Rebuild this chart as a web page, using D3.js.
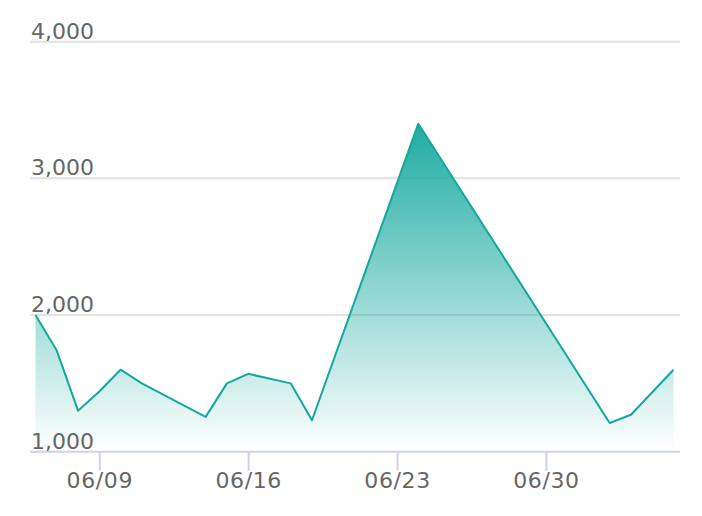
<!DOCTYPE html>
<html><head><meta charset="utf-8">
<script src="https://cdn.jsdelivr.net/npm/d3@7"></script>
<style>html,body{margin:0;padding:0;background:#fff;}svg{display:block;}</style>
</head><body>
<svg id="chart" width="702" height="516"></svg>
<script>
const dates = ["2024-06-06","2024-06-07","2024-06-08","2024-06-09","2024-06-10","2024-06-11","2024-06-14","2024-06-15","2024-06-16","2024-06-18","2024-06-19","2024-06-24","2024-07-03","2024-07-04","2024-07-06"];
const values = [2000,1740,1300,1440,1600,1500,1255,1500,1570,1500,1230,3400,1210,1270,1600];
const yTicks = [1000,2000,3000,4000];
const xTicks = ["2024-06-09","2024-06-16","2024-06-23","2024-06-30"];

const parse = d3.utcParse("%Y-%m-%d");
const data = dates.map((d,i)=>({date:parse(d), value:values[i]}));

const svg = d3.select("#chart");
const mLeft = 30, mRight = 680, mTop = 41.7, mBottom = 451.7;
const x = d3.scaleUtc().domain([parse("2024-06-06"), parse("2024-07-06")]).range([35.5, 673.5]);
const y = d3.scaleLinear().domain([1000,4000]).range([mBottom, mTop]);

const defs = svg.append("defs");
const grad = defs.append("linearGradient").attr("id","g").attr("gradientUnits","userSpaceOnUse")
  .attr("x1",0).attr("x2",0).attr("y1",y(d3.max(values))).attr("y2",mBottom);
grad.append("stop").attr("offset",0).attr("stop-color","#13a89e").attr("stop-opacity",0.95);
grad.append("stop").attr("offset",1).attr("stop-color","#13a89e").attr("stop-opacity",0.0);

// gridlines
svg.append("g").selectAll("line").data(yTicks.filter(t=>t>1000)).join("line")
  .attr("x1",mLeft).attr("x2",mRight).attr("y1",d=>y(d)).attr("y2",d=>y(d))
  .attr("stroke","#e2e2e2").attr("stroke-width",2);

// area
svg.append("path").datum(data)
  .attr("d", d3.area().x(d=>x(d.date)).y0(y(1000)).y1(d=>y(d.value)))
  .attr("fill","url(#g)");
svg.append("path").datum(data)
  .attr("d", d3.line().x(d=>x(d.date)).y(d=>y(d.value)))
  .attr("fill","none").attr("stroke","#13a89e").attr("stroke-width",2).attr("stroke-linejoin","round");

// x axis
const xAxis = d3.axisBottom(x).tickValues(xTicks.map(parse)).tickFormat(d3.utcFormat("%m/%d")).tickSize(19).tickSizeOuter(0);
const gx = svg.append("g").attr("transform",`translate(0,${mBottom})`).call(xAxis);
gx.select(".domain").remove();
gx.append("line").attr("x1",mLeft).attr("x2",mRight).attr("stroke","#ccd3e8").attr("stroke-width",2);
gx.selectAll(".tick line").attr("stroke","#ccd3e8").attr("stroke-width",2);
gx.selectAll(".tick text").attr("fill","#666").attr("font-family","DejaVu Sans").attr("font-size",22)
  .attr("letter-spacing","0.6px").attr("y",36).attr("dy",0);

// y labels
const yAxis = d3.axisLeft(y).tickValues(yTicks).tickFormat(d3.format(",")).tickSize(0);
const gy = svg.append("g").attr("transform",`translate(${mLeft+1},0)`).call(yAxis);
gy.select(".domain").remove();
gy.selectAll(".tick text").attr("fill","#666").attr("font-family","DejaVu Sans").attr("font-size",22)
  .attr("text-anchor","start").attr("x",0).attr("dy",0).attr("y",-3.5);
</script>
</body></html>
